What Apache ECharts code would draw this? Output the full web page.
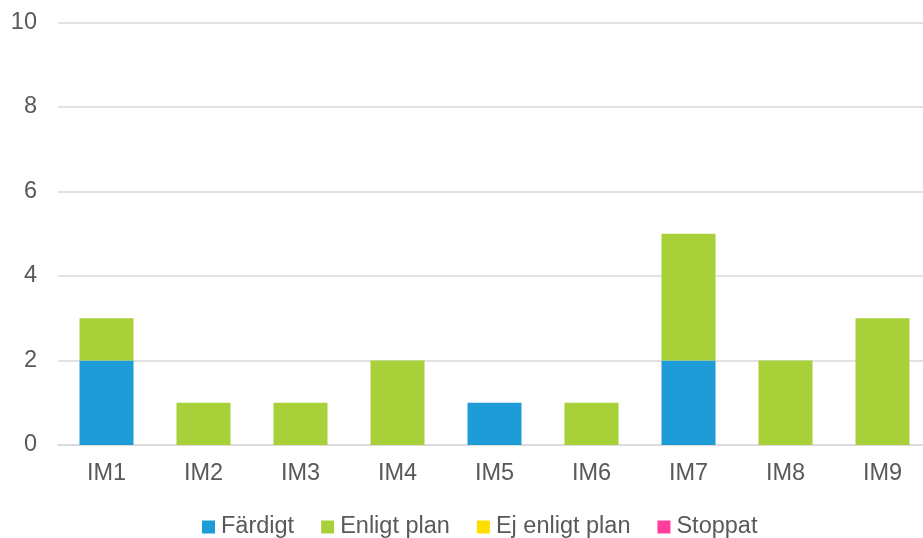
<!DOCTYPE html>
<html><head><meta charset="utf-8">
<script src="https://cdn.jsdelivr.net/npm/echarts@6/dist/echarts.min.js"></script>
<style>html,body{margin:0;padding:0;background:#fff}#c{width:923px;height:538px}</style>
</head><body><div id="c"></div>
<script>
const categories = ['IM1','IM2','IM3','IM4','IM5','IM6','IM7','IM8','IM9'];
const fardigt = [2,0,0,0,1,0,2,0,0];
const enligtPlan = [1,1,1,2,0,1,3,2,3];
const ejEnligtPlan = [0,0,0,0,0,0,0,0,0];
const stoppat = [0,0,0,0,0,0,0,0,0];
const yTicks = {min:0, max:10, interval:2};

const font = '"Liberation Sans", Arial, sans-serif';
const chart = echarts.init(document.getElementById('c'));
function s(name, data, color){
  return {name, type:'bar', stack:'a', data, barWidth:54,
    itemStyle:{color}, emphasis:{disabled:true}};
}
chart.setOption({
  animation:false,
  textStyle:{fontFamily:font},
  grid:{left:58, width:873, top:22.5, bottom:93, containLabel:false, outerBoundsMode:'none'},
  legend:{top:510, left:197, itemWidth:13, itemHeight:13, itemGap:27,
    icon:'rect', textStyle:{fontSize:23.5, color:'#595959', fontFamily:font, padding:[0,0,0,1]},
    data:['Färdigt','Enligt plan','Ej enligt plan','Stoppat']},
  xAxis:{type:'category', data:categories,
    axisLine:{lineStyle:{color:'#d9d9d9', width:1.5}}, axisTick:{show:false},
    axisLabel:{fontSize:23.5, color:'#595959', margin:17, fontFamily:font}},
  yAxis:{type:'value', min:yTicks.min, max:yTicks.max, interval:yTicks.interval,
    axisLine:{show:false}, axisTick:{show:false},
    splitLine:{lineStyle:{color:'#d9d9d9', width:1.5}},
    axisLabel:{fontSize:23.5, color:'#595959', margin:21, fontFamily:font}},
  series:[
    s('Färdigt', fardigt, '#1e9cd7'),
    s('Enligt plan', enligtPlan, '#a8d038'),
    s('Ej enligt plan', ejEnligtPlan, '#ffdd00'),
    s('Stoppat', stoppat, '#ff3d9e')
  ]
});
</script></body></html>
